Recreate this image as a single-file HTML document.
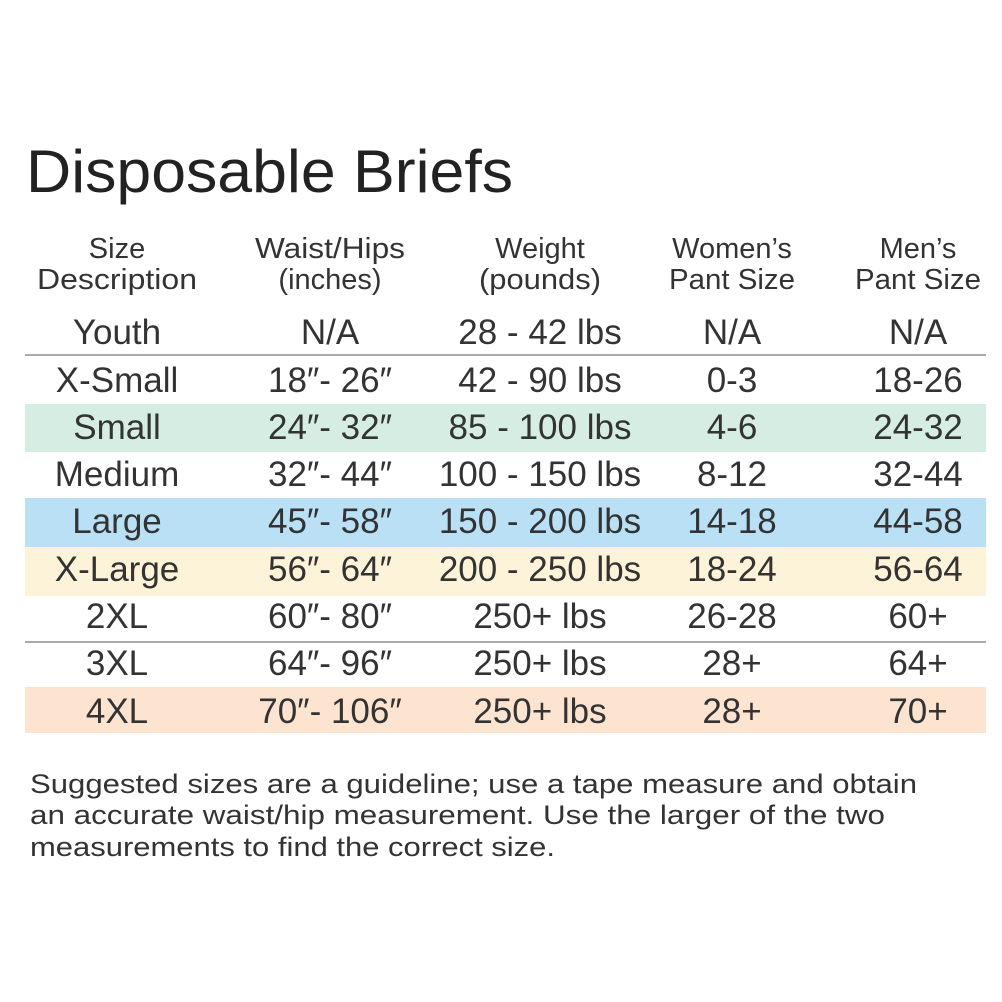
<!DOCTYPE html>
<html><head><meta charset="utf-8"><style>
html,body{margin:0;padding:0;background:#fff;}
svg{display:block;}
text{font-family:"Liberation Sans",sans-serif;fill:#333;}
</style></head><body>
<svg width="1002" height="1002" viewBox="0 0 1002 1002" xmlns="http://www.w3.org/2000/svg">
<rect width="1002" height="1002" fill="#fff"/>
<rect x="25" y="404" width="961" height="48" fill="#d6ede3"/>
<rect x="25" y="498" width="961" height="49" fill="#b9e0f5"/>
<rect x="25" y="547" width="961" height="49" fill="#fdf3d8"/>
<rect x="25" y="687" width="961" height="46" fill="#fde4d1"/>
<rect x="25" y="354" width="961" height="2" fill="#aaa"/>
<rect x="25" y="641" width="961" height="2" fill="#aaa"/>
<text x="26" y="192" font-size="60" textLength="487" lengthAdjust="spacingAndGlyphs" style="fill:#222">Disposable Briefs</text>
<g font-size="29" text-anchor="middle">
<text x="117" y="258">Size</text>
<text x="117" y="289" textLength="160" lengthAdjust="spacingAndGlyphs">Description</text>
<text x="330" y="258" textLength="150" lengthAdjust="spacingAndGlyphs">Waist/Hips</text>
<text x="330" y="289">(inches)</text>
<text x="540" y="258">Weight</text>
<text x="540" y="289" textLength="122" lengthAdjust="spacingAndGlyphs">(pounds)</text>
<text x="732" y="258">Women’s</text>
<text x="732" y="289" textLength="126" lengthAdjust="spacingAndGlyphs">Pant Size</text>
<text x="918" y="258">Men’s</text>
<text x="918" y="289" textLength="126" lengthAdjust="spacingAndGlyphs">Pant Size</text>
</g>
<g font-size="35" text-anchor="middle">
<text x="117" y="344">Youth</text><text x="330" y="344">N/A</text><text x="540" y="344">28 - 42 lbs</text><text x="732" y="344">N/A</text><text x="918" y="344">N/A</text>
<text x="117" y="392">X-Small</text><text x="330" y="392">18″- 26″</text><text x="540" y="392">42 - 90 lbs</text><text x="732" y="392">0-3</text><text x="918" y="392">18-26</text>
<text x="117" y="439">Small</text><text x="330" y="439">24″- 32″</text><text x="540" y="439">85 - 100 lbs</text><text x="732" y="439">4-6</text><text x="918" y="439">24-32</text>
<text x="117" y="486">Medium</text><text x="330" y="486">32″- 44″</text><text x="540" y="486">100 - 150 lbs</text><text x="732" y="486">8-12</text><text x="918" y="486">32-44</text>
<text x="117" y="533">Large</text><text x="330" y="533">45″- 58″</text><text x="540" y="533">150 - 200 lbs</text><text x="732" y="533">14-18</text><text x="918" y="533">44-58</text>
<text x="117" y="581">X-Large</text><text x="330" y="581">56″- 64″</text><text x="540" y="581">200 - 250 lbs</text><text x="732" y="581">18-24</text><text x="918" y="581">56-64</text>
<text x="117" y="628">2XL</text><text x="330" y="628">60″- 80″</text><text x="540" y="628">250+ lbs</text><text x="732" y="628">26-28</text><text x="918" y="628">60+</text>
<text x="117" y="675">3XL</text><text x="330" y="675">64″- 96″</text><text x="540" y="675">250+ lbs</text><text x="732" y="675">28+</text><text x="918" y="675">64+</text>
<text x="117" y="723">4XL</text><text x="330" y="723">70″- 106″</text><text x="540" y="723">250+ lbs</text><text x="732" y="723">28+</text><text x="918" y="723">70+</text>
</g>
<g font-size="27">
<text x="30" y="793" textLength="887" lengthAdjust="spacingAndGlyphs">Suggested sizes are a guideline; use a tape measure and obtain</text>
<text x="30" y="824" textLength="855" lengthAdjust="spacingAndGlyphs">an accurate waist/hip measurement. Use the larger of the two</text>
<text x="30" y="856" textLength="525" lengthAdjust="spacingAndGlyphs">measurements to find the correct size.</text>
</g>
</svg>
</body></html>
